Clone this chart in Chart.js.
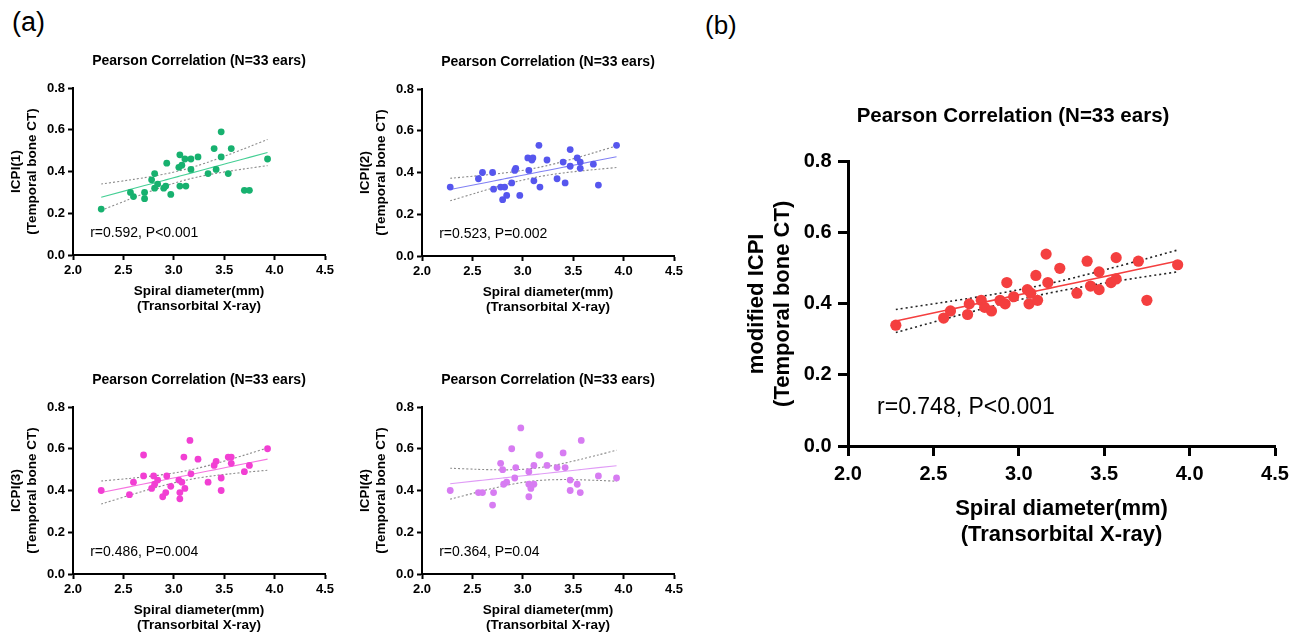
<!DOCTYPE html>
<html>
<head>
<meta charset="utf-8">
<script src="https://cdn.jsdelivr.net/npm/chart.js@4.4.1/dist/chart.umd.min.js"></script>
<style>
  html, body { margin: 0; padding: 0; background: #fff; overflow: hidden; }
  #page { position: relative; width: 1304px; height: 635px; }
  canvas { position: absolute; }
  .tag { position: absolute; font-family: 'Liberation Sans', Arial, sans-serif; color: #000; line-height: 1; }
</style>
</head>
<body>
<div id="page">
  <div class="tag" style="left:12px; top:9px; font-size:27px;">(a)</div>
  <div class="tag" style="left:705px; top:12px; font-size:26px;">(b)</div>
  <canvas id="icpi1" width="340" height="280" style="left:0; top:40px;"></canvas>
  <canvas id="icpi2" width="340" height="280" style="left:349px; top:41px;"></canvas>
  <canvas id="icpi3" width="340" height="280" style="left:0; top:359px;"></canvas>
  <canvas id="icpi4" width="340" height="280" style="left:349px; top:359px;"></canvas>
  <canvas id="icpiMod" width="560" height="545" style="left:740px; top:90px;"></canvas>
</div>
<script>
const FONT = "'Liberation Sans', Arial, sans-serif";

// axis ticks shared by every panel
const xTicks = [2.0, 2.5, 3.0, 3.5, 4.0, 4.5];
const yTicks = [0.0, 0.2, 0.4, 0.6, 0.8];

// spiral diameter (mm) and ICPI values
const icpi1X = [2.28, 2.57, 2.60, 2.71, 2.71, 2.78, 2.81, 2.81, 2.84, 2.90, 2.92, 2.93, 2.97, 3.06, 3.05, 3.08,
                3.06, 3.11, 3.12, 3.17, 3.17, 3.24, 3.34, 3.40, 3.42, 3.47, 3.47, 3.54, 3.57, 3.70, 3.75, 3.93];
const icpi1Y = [0.22, 0.30, 0.28, 0.27, 0.30, 0.36, 0.39, 0.32, 0.34, 0.32, 0.33, 0.44, 0.29, 0.48, 0.42, 0.43,
                0.33, 0.46, 0.33, 0.46, 0.41, 0.47, 0.39, 0.51, 0.41, 0.59, 0.47, 0.39, 0.51, 0.31, 0.31, 0.46];

const icpi2X = [2.28, 2.56, 2.60, 2.70, 2.71, 2.78, 2.80, 2.82, 2.84, 2.89, 2.92, 2.93, 2.97, 3.05, 3.06, 3.09,
                3.10, 3.11, 3.16, 3.17, 3.24, 3.34, 3.40, 3.42, 3.47, 3.47, 3.54, 3.57, 3.57, 3.70, 3.75, 3.93];
const icpi2Y = [0.33, 0.37, 0.40, 0.40, 0.32, 0.33, 0.27, 0.33, 0.29, 0.35, 0.41, 0.42, 0.29, 0.47, 0.41, 0.46,
                0.47, 0.36, 0.53, 0.33, 0.46, 0.37, 0.45, 0.35, 0.43, 0.51, 0.47, 0.45, 0.42, 0.44, 0.34, 0.53];

const icpi3X = [2.28, 2.56, 2.60, 2.70, 2.70, 2.78, 2.80, 2.81, 2.84, 2.89, 2.92, 2.93, 2.97, 3.05, 3.06, 3.06, 3.08,
                3.10, 3.11, 3.16, 3.17, 3.24, 3.34, 3.40, 3.42, 3.47, 3.47, 3.54, 3.57, 3.57, 3.70, 3.75, 3.93];
const icpi3Y = [0.40, 0.38, 0.44, 0.57, 0.47, 0.41, 0.47, 0.43, 0.45, 0.37, 0.39, 0.47, 0.42, 0.45, 0.39, 0.36, 0.44,
                0.56, 0.41, 0.64, 0.48, 0.55, 0.44, 0.52, 0.54, 0.46, 0.40, 0.56, 0.56, 0.53, 0.49, 0.52, 0.60];

const icpi4X = [2.28, 2.56, 2.60, 2.70, 2.71, 2.78, 2.80, 2.81, 2.84, 2.89, 2.93, 2.92, 2.98, 3.06, 3.06, 3.06,
                3.08, 3.11, 3.11, 3.16, 3.17, 3.24, 3.34, 3.40, 3.42, 3.47, 3.47, 3.54, 3.58, 3.57, 3.75, 3.93];
const icpi4Y = [0.40, 0.39, 0.39, 0.33, 0.39, 0.53, 0.50, 0.43, 0.44, 0.60, 0.51, 0.46, 0.70, 0.49, 0.43, 0.37,
                0.41, 0.43, 0.52, 0.57, 0.57, 0.52, 0.51, 0.58, 0.51, 0.45, 0.40, 0.43, 0.64, 0.39, 0.47, 0.46];

const modX = [2.28, 2.56, 2.60, 2.70, 2.71, 2.78, 2.80, 2.84, 2.89, 2.92, 2.93, 2.97, 3.05, 3.06, 3.07, 3.11,
              3.10, 3.16, 3.17, 3.24, 3.34, 3.40, 3.42, 3.47, 3.47, 3.54, 3.57, 3.57, 3.70, 3.75, 3.93];
const modY = [0.34, 0.36, 0.38, 0.37, 0.40, 0.41, 0.39, 0.38, 0.41, 0.40, 0.46, 0.42, 0.44, 0.40, 0.43, 0.41,
              0.48, 0.54, 0.46, 0.50, 0.43, 0.52, 0.45, 0.49, 0.44, 0.46, 0.47, 0.53, 0.52, 0.41, 0.51];

const chartTitle = 'Pearson Correlation (N=33 ears)';
const xTitle = ['Spiral diameter(mm)', '(Transorbital X-ray)'];
const noteAt = [2.17, 0.107];

// geometry for the four small panels and the large one
const SMALL = {
    padTop: 48, padRight: 15, yAxisW: 73, xAxisH: 65,
    tickSize: 13, tickLen: 5, tickPad: 3, axisW: 2,
    axisTitleSize: 13.5, lh: 1.15, yTitlePad: 8.9, xTitlePad: 5.5,
    titleSize: 14, titleX: 199, titleY: 20.7, noteSize: 14,
    pointR: 3.4, fitW: 1.1, ciW: 1.1, ciDash: [2, 2], ciColor: '#8c8c8c'
};
const LARGE = {
    padTop: 71.7, padRight: 25, yAxisW: 108, xAxisH: 189,
    tickSize: 20, tickLen: 10, tickPad: 6.5, axisW: 3,
    axisTitleSize: 22, lh: 1.2, yTitlePad: 3.5, xTitlePad: 86.8,
    titleSize: 20.5, titleX: 273, titleY: 26.7, noteSize: 23,
    pointR: 5.6, fitW: 1.6, ciW: 1.6, ciDash: [2, 3], ciColor: '#222'
};

// least squares line and 95% confidence band, evaluated at the observed x values
function fitBands(xs, ys) {
    const n = xs.length;
    const mx = xs.reduce((s, v) => s + v, 0) / n;
    const my = ys.reduce((s, v) => s + v, 0) / n;
    let sxx = 0, sxy = 0;
    xs.forEach((x, i) => { sxx += (x - mx) ** 2; sxy += (x - mx) * (ys[i] - my); });
    const b = sxy / sxx, a = my - b * mx;
    let sse = 0;
    xs.forEach((x, i) => { sse += (ys[i] - a - b * x) ** 2; });
    const s = Math.sqrt(sse / (n - 2));
    const t = 2.04;
    const grid = [...new Set(xs)].sort((p, q) => p - q);
    return grid.map(x => {
        const yh = a + b * x;
        const h = t * s * Math.sqrt(1 / n + (x - mx) ** 2 / sxx);
        return { x, fit: yh, lo: yh - h, hi: yh + h };
    });
}

const panelText = {
    id: 'panelText',
    afterDraw(chart, args, opts) {
        const { ctx, scales } = chart;
        ctx.save();
        ctx.fillStyle = '#000';
        ctx.textBaseline = 'middle';
        ctx.textAlign = 'center';
        ctx.font = `bold ${opts.titleSize}px ${FONT}`;
        ctx.fillText(opts.title, opts.titleX, opts.titleY);
        ctx.textAlign = 'left';
        ctx.font = `${opts.noteSize}px ${FONT}`;
        ctx.fillText(opts.note, scales.x.getPixelForValue(noteAt[0]), scales.y.getPixelForValue(noteAt[1]));
        ctx.restore();
    }
};

function makePanel(id, xs, ys, dotColor, lineColor, yTitle, note, g) {
    const band = fitBands(xs, ys);
    const tickFont = { family: FONT, size: g.tickSize, weight: 'bold' };
    const titleFont = { family: FONT, size: g.axisTitleSize, weight: 'bold', lineHeight: g.lh };
    const axisGrid = { display: true, drawOnChartArea: false, drawTicks: true, tickLength: g.tickLen, tickColor: '#000', tickWidth: g.axisW };
    const axisBorder = { display: true, color: '#000', width: g.axisW };

    return new Chart(document.getElementById(id), {
        type: 'scatter',
        data: {
            datasets: [
                {
                    data: xs.map((x, i) => ({ x, y: ys[i] })),
                    backgroundColor: dotColor, borderColor: dotColor,
                    pointRadius: g.pointR, pointHoverRadius: g.pointR, borderWidth: 0
                },
                {
                    data: band.map(p => ({ x: p.x, y: p.fit })),
                    showLine: true, pointRadius: 0, borderColor: lineColor, borderWidth: g.fitW
                },
                {
                    data: band.map(p => ({ x: p.x, y: p.hi })),
                    showLine: true, pointRadius: 0, borderColor: g.ciColor, borderWidth: g.ciW, borderDash: g.ciDash, tension: 0.3
                },
                {
                    data: band.map(p => ({ x: p.x, y: p.lo })),
                    showLine: true, pointRadius: 0, borderColor: g.ciColor, borderWidth: g.ciW, borderDash: g.ciDash, tension: 0.3
                }
            ]
        },
        options: {
            responsive: false,
            animation: false,
            layout: { padding: { top: g.padTop, right: g.padRight, left: 0, bottom: 0 } },
            plugins: {
                legend: { display: false },
                tooltip: { enabled: false },
                panelText: { title: chartTitle, titleX: g.titleX, titleY: g.titleY, titleSize: g.titleSize, note: note, noteSize: g.noteSize }
            },
            scales: {
                x: {
                    type: 'linear', min: 2, max: 4.5,
                    afterBuildTicks: s => { s.ticks = xTicks.map(v => ({ value: v })); },
                    afterFit: s => { s.height = g.xAxisH; },
                    ticks: { color: '#000', font: tickFont, padding: g.tickPad, maxRotation: 0, autoSkip: false, callback: v => v.toFixed(1) },
                    grid: axisGrid,
                    border: axisBorder,
                    title: { display: true, text: xTitle, color: '#000', font: titleFont, padding: { top: 0, bottom: g.xTitlePad } }
                },
                y: {
                    type: 'linear', min: 0, max: 0.8,
                    afterBuildTicks: s => { s.ticks = yTicks.map(v => ({ value: v })); },
                    afterFit: s => { s.width = g.yAxisW; },
                    ticks: { color: '#000', font: tickFont, padding: g.tickPad, autoSkip: false, callback: v => v.toFixed(1) },
                    grid: axisGrid,
                    border: axisBorder,
                    title: { display: true, text: yTitle, color: '#000', font: titleFont, padding: { top: g.yTitlePad, bottom: 0 } }
                }
            }
        },
        plugins: [panelText]
    });
}

makePanel('icpi1', icpi1X, icpi1Y, '#17b16f', '#45cf95', ['ICPI(1)', '(Temporal bone CT)'], 'r=0.592, P<0.001', SMALL);
makePanel('icpi2', icpi2X, icpi2Y, '#5656ee', '#8080f4', ['ICPI(2)', '(Temporal bone CT)'], 'r=0.523, P=0.002', SMALL);
makePanel('icpi3', icpi3X, icpi3Y, '#f23fd3', '#f674e0', ['ICPI(3)', '(Temporal bone CT)'], 'r=0.486, P=0.004', SMALL);
makePanel('icpi4', icpi4X, icpi4Y, '#d77cf2', '#e09cf6', ['ICPI(4)', '(Temporal bone CT)'], 'r=0.364, P=0.04', SMALL);
makePanel('icpiMod', modX, modY, '#f43f3f', '#f43f3f', ['modified ICPI', '(Temporal bone CT)'], 'r=0.748, P<0.001', LARGE);
</script>
</body>
</html>
